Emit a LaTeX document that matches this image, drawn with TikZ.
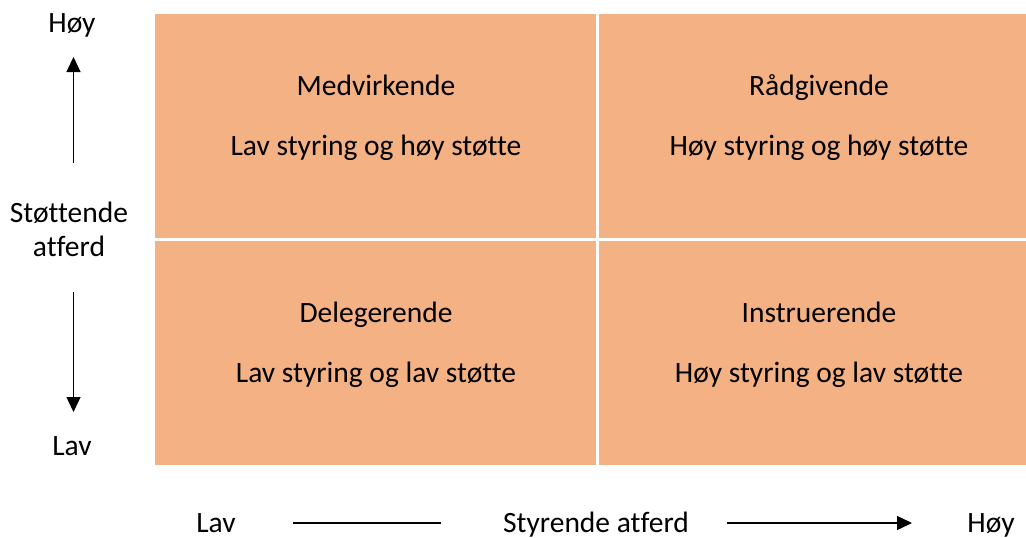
\documentclass[tikz,border=0pt]{standalone}
\usepackage{fontspec}
\setmainfont[Ligatures=NoCommon]{Carlito}
\usetikzlibrary{arrows.meta}
\definecolor{cellorange}{HTML}{F4B183}
\tikzset{
  cell/.style={fill=cellorange, draw=none, inner sep=0pt, anchor=north west},
  lbl/.style={inner sep=0pt, anchor=base, font=\fontsize{29.5}{35}\selectfont, text=black},
  axis/.style={line width=1.4pt, draw=black},
  tip/.style={-{Triangle[length=15pt,width=14pt]}}
}
\begin{document}
\begin{tikzpicture}[x=1pt,y=-1pt]
\useasboundingbox (0,0) rectangle (1026,538);
% cells
\node[cell, minimum width=440.5pt, minimum height=223.7pt] (tl) at (155,14) {};
\node[cell, minimum width=427.3pt, minimum height=223.7pt] (tr) at (598.7,14) {};
\node[cell, minimum width=440.5pt, minimum height=224.3pt] (bl) at (155,240.7) {};
\node[cell, minimum width=427.3pt, minimum height=224.3pt] (br) at (598.7,240.7) {};
% cell texts
\node[lbl] (t1) at (376,95) {Medvirkende};
\node[lbl] (t1b) at (376,155) {Lav styring og høy støtte};
\node[lbl] (t2) at (819,95) {Rådgivende};
\node[lbl] (t2b) at (819,155) {Høy styring og høy støtte};
\node[lbl] (t3) at (376,322) {Delegerende};
\node[lbl] (t3b) at (376,382) {Lav styring og lav støtte};
\node[lbl] (t4) at (819,322) {Instruerende};
\node[lbl] (t4b) at (819,382) {Høy styring og lav støtte};
% vertical axis
\node[lbl] (vhigh) at (72,32) {Høy};
\node[lbl] (vlab) at (69,222) {Støttende};
\node[lbl] (vlab2) at (69,256) {atferd};
\node[lbl] (vlow) at (72,455) {Lav};
\coordinate (u1) at (73.5,163);
\coordinate (u2) at (73.5,57);
\coordinate (d1) at (73.5,292);
\coordinate (d2) at (73.5,412);
\draw[axis, tip] (u1) -- (u2);
\draw[axis, tip] (d1) -- (d2);
% horizontal axis
\node[lbl] (hlow) at (216,532) {Lav};
\node[lbl] (hlab) at (596,532) {Styrende atferd};
\node[lbl] (hhigh) at (991,532) {Høy};
\coordinate (l1) at (293,523);
\coordinate (l2) at (441,523);
\coordinate (r1) at (727,523);
\coordinate (r2) at (912,523);
\draw[axis] (l1) -- (l2);
\draw[axis, tip] (r1) -- (r2);
\end{tikzpicture}
\end{document}
